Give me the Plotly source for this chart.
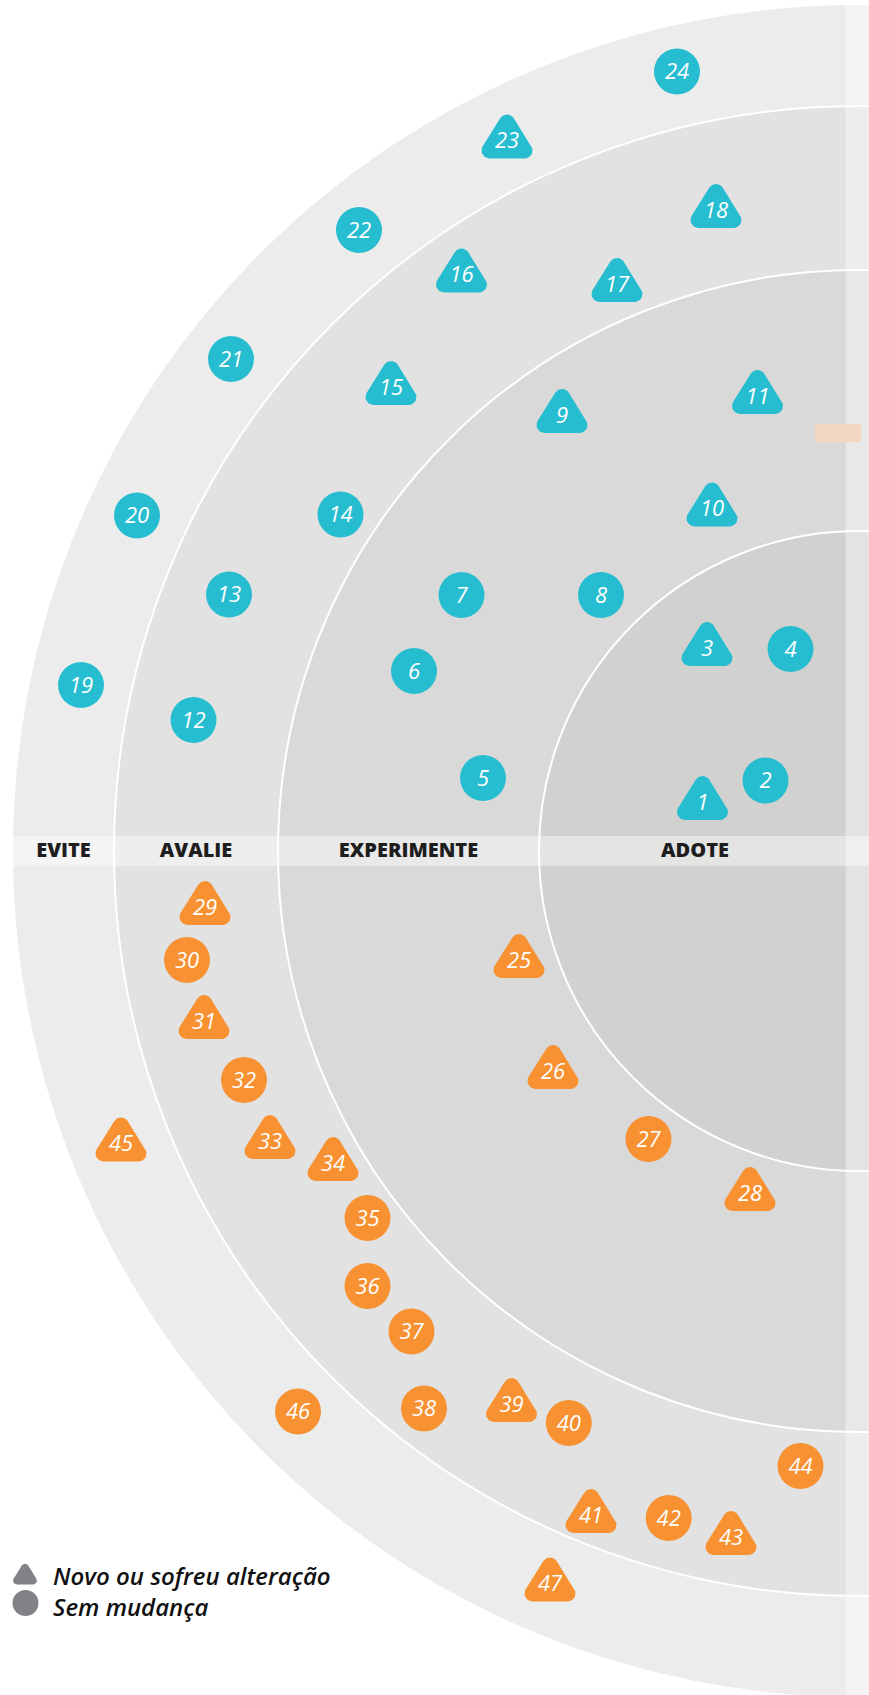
import numpy as np
import plotly.graph_objects as go

# ---------------- data ----------------
RING_NAMES = ["ADOTE", "EXPERIMENTE", "AVALIE", "EVITE"]

BLUE_IDS = list(range(1, 25))
BLUE_X = [702.5, 765.5, 707, 790.5, 483, 414, 461.5, 601, 562, 712, 757.5, 193.5,
          229, 340.5, 391, 461.5, 617, 716, 81, 137, 231, 359, 507, 677]
BLUE_Y = [802, 780.5, 648, 649, 778, 671, 595, 595, 415, 508.5, 396, 720,
          594.5, 514.5, 387, 274.5, 284, 210, 685, 515.5, 359, 230, 140.5, 71.5]
BLUE_NEW = [True, False, True, False, False, False, False, False, True, True, True, False,
            False, False, True, True, True, True, False, False, False, False, True, False]

ORANGE_IDS = list(range(25, 48))
ORANGE_X = [519, 553, 648.5, 750, 205, 187, 204, 244, 270, 333, 367.5, 367.5,
            411.5, 424, 511.5, 568.8, 591, 668.7, 731, 800.5, 121, 298, 550]
ORANGE_Y = [960, 1071, 1139, 1193, 907, 960, 1021, 1080, 1141, 1163, 1218, 1286,
            1331.5, 1408.5, 1404, 1423, 1515, 1518, 1537, 1466, 1143.5, 1411.5, 1583.5]
ORANGE_NEW = [True, True, False, True, True, False, True, False, True, True, False, False,
              False, False, True, False, True, False, True, False, True, False, True]

LEGEND_LABELS = ["Novo ou sofreu alteração", "Sem mudança"]

# ---------------- geometry / style ----------------
W, H = 869, 1695
CX, CY = 859, 851
RADII = [320, 581, 745, 846]
RING_COLORS = ["#d1d1cf", "#d9d9d9", "#e2e2e2", "#ececec"]
BLUE = "#27bdd0"
ORANGE = "#f79131"
GRAY = "#818187"
STRIP_X = 845.7
BAND_Y0, BAND_Y1 = 836, 866
TEXT_DY = 2  # visual centring of digits


def rounded_triangle(scale=1.0, rc=8.0, n=10):
    """Outline offsets of a rounded triangle relative to its label centre."""
    verts = np.array([[0.0, -18.0], [17.5, 10.0], [-17.5, 10.0]])
    cen = verts.mean(axis=0)
    normals = []
    for i in range(3):
        a, b = verts[i], verts[(i + 1) % 3]
        d = (b - a) / np.linalg.norm(b - a)
        nrm = np.array([-d[1], d[0]])
        if np.dot(nrm, (a + b) / 2 - cen) < 0:
            nrm = -nrm
        normals.append(nrm)
    pts = []
    for i in range(3):
        n_prev = normals[i - 1]
        n_next = normals[i]
        a0 = np.arctan2(n_prev[1], n_prev[0])
        a1 = np.arctan2(n_next[1], n_next[0])
        delta = np.arctan2(np.sin(a1 - a0), np.cos(a1 - a0))
        for t in np.linspace(0, 1, n):
            ang = a0 + t * delta
            pts.append(verts[i] + rc * np.array([np.cos(ang), np.sin(ang)]))
    pts = np.array(pts) * scale
    return pts[:, 0], pts[:, 1]


TRI_DX, TRI_DY = rounded_triangle()


def tri_polys(xs, ys, dx=TRI_DX, dy=TRI_DY):
    px, py = [], []
    for x, y in zip(xs, ys):
        px += list(x + dx) + [None]
        py += list(y + dy) + [None]
    return px, py


fig = go.Figure()

for ids, xs, ys, new, col in [(BLUE_IDS, BLUE_X, BLUE_Y, BLUE_NEW, BLUE),
                              (ORANGE_IDS, ORANGE_X, ORANGE_Y, ORANGE_NEW, ORANGE)]:
    tx = [x for x, f in zip(xs, new) if f]
    ty = [y for y, f in zip(ys, new) if f]
    cxs = [x for x, f in zip(xs, new) if not f]
    cys = [y for y, f in zip(ys, new) if not f]
    px, py = tri_polys(tx, ty)
    fig.add_trace(go.Scatter(x=px, y=py, mode="lines", fill="toself", fillcolor=col,
                             line=dict(width=0, color=col), hoverinfo="skip", showlegend=False))
    fig.add_trace(go.Scatter(x=cxs, y=cys, mode="markers",
                             marker=dict(size=46, color=col, line=dict(width=0)),
                             hoverinfo="skip", showlegend=False))
    fig.add_trace(go.Scatter(x=xs, y=[y + TEXT_DY for y in ys], mode="text",
                             text=[str(i) for i in ids],
                             textposition="middle center",
                             textfont=dict(family="Open Sans", size=22, color="white",
                                           style="italic", weight=500),
                             hoverinfo="skip", showlegend=False))

# ring labels in the band
label_x = [(CX - RADII[0] + CX - 8) / 2]
for i in range(1, 4):
    label_x.append(CX - (RADII[i - 1] + RADII[i]) / 2)
fig.add_trace(go.Scatter(x=label_x, y=[(BAND_Y0 + BAND_Y1) / 2 + 1] * 4, mode="text",
                         text=RING_NAMES, textposition="middle center",
                         textfont=dict(family="Open Sans", size=20, color="#1e1e1e", weight=800),
                         hoverinfo="skip", showlegend=False))

# legend glyphs
ldx, ldy = rounded_triangle(scale=0.47, rc=8.0)
lpx, lpy = tri_polys([25], [1576], ldx, ldy)
fig.add_trace(go.Scatter(x=lpx, y=lpy, mode="lines", fill="toself", fillcolor=GRAY,
                         line=dict(width=0, color=GRAY), hoverinfo="skip", showlegend=False))
fig.add_trace(go.Scatter(x=[25.5], y=[1603], mode="markers",
                         marker=dict(size=26, color=GRAY, line=dict(width=0)),
                         hoverinfo="skip", showlegend=False))
for lab, yy in zip(LEGEND_LABELS, [1575, 1606]):
    fig.add_annotation(x=51, y=yy, xref="x", yref="y", text=lab, showarrow=False,
                       xanchor="left", yanchor="middle",
                       font=dict(family="Open Sans", size=24, color="#111111",
                                 style="italic", weight=600))

shapes = []
for i in range(3, -1, -1):
    r = RADII[i]
    shapes.append(dict(type="circle", xref="x", yref="y", layer="below",
                       x0=CX - r, x1=CX + r, y0=CY - r, y1=CY + r,
                       fillcolor=RING_COLORS[i],
                       line=dict(color="white", width=0 if i == 3 else 2)))
shapes.append(dict(type="rect", xref="x", yref="y", layer="below", x0=0, x1=W,
                   y0=BAND_Y0, y1=BAND_Y1, fillcolor="rgba(255,255,255,0.42)", line=dict(width=0)))
shapes.append(dict(type="rect", xref="x", yref="y", layer="below", x0=STRIP_X, x1=W,
                   y0=0, y1=H, fillcolor="rgba(255,255,255,0.4)", line=dict(width=0)))
shapes.append(dict(type="rect", xref="x", yref="y", layer="below", x0=815, x1=861,
                   y0=424, y1=442, fillcolor="#f2d6c2", line=dict(width=0)))

fig.update_layout(
    width=W, height=H, margin=dict(l=0, r=0, t=0, b=0),
    paper_bgcolor="white", plot_bgcolor="white",
    shapes=shapes, showlegend=False,
    xaxis=dict(range=[0, W], visible=False, fixedrange=True),
    yaxis=dict(range=[H, 0], visible=False, fixedrange=True),
)

fig.write_html("out.html", config={"displayModeBar": False},
               post_script="document.body.style.margin='0';document.body.style.overflow='hidden';")
